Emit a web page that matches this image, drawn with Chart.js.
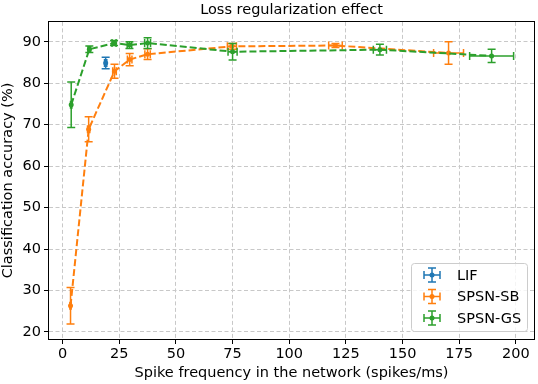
<!DOCTYPE html>
<html>
<head>
<meta charset="utf-8">
<script src="https://cdn.jsdelivr.net/npm/chart.js@4.4.0/dist/chart.umd.min.js"></script>
<style>
  html, body { margin: 0; padding: 0; background: #fff; }
</style>
</head>
<body>
<canvas id="chart" width="538" height="384"></canvas>
<script>
// values
var lifX = [19.0];
var lifY = [84.9];
var lifXErr = [0.5];
var lifYErr = [1.4];

var sbX = [3.5, 11.5, 22.9, 29.6, 37.5, 74.7, 120.4, 170.3];
var sbY = [26.3, 68.9, 82.9, 85.7, 87.0, 88.9, 89.1, 87.3];
var sbXErr = [0.3, 0.5, 0.8, 1.0, 1.2, 2.0, 3.0, 6.6];
var sbYErr = [4.4, 3.0, 1.7, 1.5, 1.3, 0.7, 0.5, 2.7];

var gsX = [3.8, 11.8, 22.7, 29.5, 37.5, 75.0, 140.0, 189.3];
var gsY = [74.8, 88.2, 89.7, 89.2, 89.7, 87.6, 88.1, 86.6];
var gsXErr = [0.3, 0.6, 0.9, 1.0, 1.3, 2.0, 2.9, 9.7];
var gsYErr = [5.5, 0.8, 0.6, 0.8, 1.3, 2.0, 1.3, 1.6];

var xTicksStep = 25;
var yTicksStep = 10;

Chart.defaults.font.family = 'DejaVu Sans';
Chart.defaults.color = '#000';

function toPoints(xs, ys, xe, ye) {
  return xs.map(function(x, i) { return { x: x, y: ys[i], xErr: xe[i], yErr: ye[i] }; });
}

function drawErrorGlyph(c, px, py, x0, x1, y0, y1, cap) {
  c.beginPath();
  c.moveTo(x0, py); c.lineTo(x1, py);
  c.moveTo(px, y0); c.lineTo(px, y1);
  c.moveTo(x0, py - cap); c.lineTo(x0, py + cap);
  c.moveTo(x1, py - cap); c.lineTo(x1, py + cap);
  c.moveTo(px - cap, y0); c.lineTo(px + cap, y0);
  c.moveTo(px - cap, y1); c.lineTo(px + cap, y1);
  c.stroke();
}

var errorBars = {
  id: 'errorBars',
  beforeDatasetDraw: function(chart, args) {
    var ds = chart.data.datasets[args.index];
    var xs = chart.scales.x, ys = chart.scales.y, c = chart.ctx;
    c.save();
    c.strokeStyle = ds.borderColor;
    c.lineWidth = 1.5;
    c.setLineDash([]);
    ds.data.forEach(function(p) {
      drawErrorGlyph(c,
        xs.getPixelForValue(p.x), ys.getPixelForValue(p.y),
        xs.getPixelForValue(p.x - p.xErr), xs.getPixelForValue(p.x + p.xErr),
        ys.getPixelForValue(p.y + p.yErr), ys.getPixelForValue(p.y - p.yErr), 4);
    });
    c.restore();
  }
};

var frameAndLegend = {
  id: 'frameAndLegend',
  afterDraw: function(chart) {
    var a = chart.chartArea, c = chart.ctx;
    c.save();
    c.strokeStyle = '#000';
    c.lineWidth = 1;
    c.setLineDash([]);
    c.strokeRect(Math.round(a.left) - 0.5, Math.round(a.top) - 0.5, Math.round(a.right - a.left) + 1, Math.round(a.bottom - a.top) + 1);

    var w = 116, h = 68;
    var bx = a.right - 7 - w, by = a.bottom - 8 - h;
    c.beginPath();
    c.roundRect(bx + 0.5, by + 0.5, w, h, 3);
    c.fillStyle = 'rgba(255,255,255,0.8)';
    c.fill();
    c.strokeStyle = '#cccccc';
    c.stroke();

    c.font = '14.5px "DejaVu Sans"';
    c.textBaseline = 'middle';
    chart.data.datasets.forEach(function(ds, i) {
      var cy = by + 12 + i * 21.5, cx = bx + 21;
      c.strokeStyle = ds.borderColor;
      c.lineWidth = 1.5;
      drawErrorGlyph(c, cx, cy, cx - 8, cx + 8, cy - 7, cy + 7, 4);
      c.fillStyle = ds.borderColor;
      c.beginPath();
      c.arc(cx, cy, 2.5, 0, Math.PI * 2);
      c.fill();
      c.fillStyle = '#000';
      c.fillText(ds.label, bx + 46, cy + 1);
    });
    c.restore();
  }
};

function series(label, color, pts, order, showLine) {
  return {
    label: label, data: pts, order: order,
    borderColor: color, backgroundColor: color,
    showLine: showLine, borderWidth: 2, borderDash: [7, 3],
    pointRadius: 2.5, pointBorderWidth: 0, pointBackgroundColor: color
  };
}

var gridOpts = { color: '#c8c8c8', lineWidth: 1, tickColor: '#000', tickLength: 5, tickWidth: 1, tickBorderDash: [] };
var labelFont = { size: 14.5 };

new Chart(document.getElementById('chart'), {
  type: 'scatter',
  data: {
    datasets: [
      series('LIF', '#1f77b4', toPoints(lifX, lifY, lifXErr, lifYErr), 2, false),
      series('SPSN-SB', '#ff7f0e', toPoints(sbX, sbY, sbXErr, sbYErr), 1, true),
      series('SPSN-GS', '#2ca02c', toPoints(gsX, gsY, gsXErr, gsYErr), 0, true)
    ]
  },
  options: {
    responsive: false, animation: false, devicePixelRatio: 1,
    layout: { padding: 0 },
    plugins: {
      legend: { display: false },
      tooltip: { enabled: false },
      title: { display: true, fullSize: false, text: 'Loss regularization effect', font: { size: 14.5, weight: 'normal' }, color: '#000', padding: { top: 1.5, bottom: 3 } }
    },
    scales: {
      x: {
        type: 'linear', min: -6, max: 208,
        ticks: { stepSize: xTicksStep, includeBounds: false, font: labelFont, color: '#000', padding: 2, maxRotation: 0 },
        grid: gridOpts,
        border: { display: false, dash: [4, 2.5] },
        title: { display: true, text: 'Spike frequency in the network (spikes/ms)', font: labelFont, color: '#000', padding: { top: 1, bottom: 2 } },
        afterFit: function(s) { s.height = 45; }
      },
      y: {
        type: 'linear', min: 18.3, max: 94.8,
        ticks: { stepSize: yTicksStep, includeBounds: false, font: labelFont, color: '#000', padding: 3 },
        grid: gridOpts,
        border: { display: false, dash: [4, 2.5] },
        title: { display: true, text: 'Classification accuracy (%)', font: labelFont, color: '#000', padding: { top: 0, bottom: 1 } },
        afterFit: function(s) { s.width = 49; }
      }
    }
  },
  plugins: [errorBars, frameAndLegend]
});
</script>
</body>
</html>
